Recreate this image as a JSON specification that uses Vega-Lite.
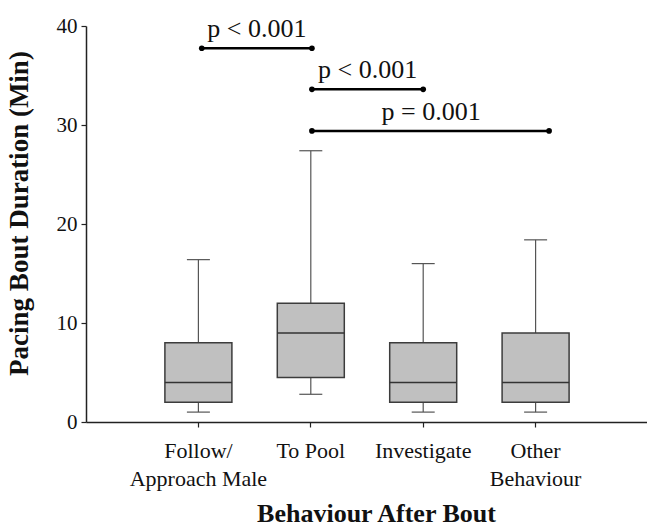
{
  "$schema": "https://vega.github.io/schema/vega-lite/v6.json",
  "width": 562,
  "height": 396,
  "autosize": {"type": "none"},
  "padding": {"left": 86, "top": 26, "right": 0, "bottom": 106},
  "background": "white",
  "config": {
    "view": {"stroke": null},
    "font": "Liberation Serif",
    "axis": {
      "grid": false,
      "domainColor": "#222222",
      "domainWidth": 1.5,
      "tickColor": "#222222",
      "tickWidth": 1.2,
      "tickSize": 5,
      "labelFont": "Liberation Serif",
      "labelFontSize": 21,
      "labelColor": "#111111",
      "titleFont": "Liberation Serif",
      "titleFontWeight": "bold",
      "titleColor": "#111111"
    }
  },
  "layer": [
    {
      "data": {
        "values": [
          {"behaviour": "Follow/Approach Male", "min": 1, "q1": 2, "median": 4, "q3": 8, "max": 16.4},
          {"behaviour": "To Pool", "min": 2.8, "q1": 4.5, "median": 9, "q3": 12, "max": 27.4},
          {"behaviour": "Investigate", "min": 1, "q1": 2, "median": 4, "q3": 8, "max": 16},
          {"behaviour": "Other Behaviour", "min": 1, "q1": 2, "median": 4, "q3": 9, "max": 18.4}
        ]
      },
      "encoding": {
        "x": {
          "field": "behaviour",
          "type": "nominal",
          "sort": ["Follow/Approach Male", "To Pool", "Investigate", "Other Behaviour"],
          "scale": {"paddingInner": 0, "paddingOuter": 0.5},
          "axis": {
            "title": "Behaviour After Bout",
            "titleFontSize": 26,
            "titlePadding": 11,
            "titleX": 290,
            "labelAngle": 0,
            "labelFontSize": 22,
            "labelPadding": 13,
            "labelLineHeight": 28,
            "labelExpr": "datum.label == 'Follow/Approach Male' ? ['Follow/', 'Approach Male'] : datum.label == 'Other Behaviour' ? ['Other', 'Behaviour'] : datum.label"
          }
        }
      },
      "layer": [
        {
          "mark": {"type": "rule", "color": "#555555", "strokeWidth": 1.2},
          "encoding": {
            "y": {
              "field": "min",
              "type": "quantitative",
              "scale": {"domain": [0, 40], "nice": false},
              "axis": {
                "values": [0, 10, 20, 30, 40],
                "labelPadding": 4,
                "title": "Pacing Bout Duration (Min)",
                "titleFontSize": 27,
                "titlePadding": 23,
                "titleY": 187
              }
            },
            "y2": {"field": "max"}
          }
        },
        {
          "mark": {"type": "bar", "size": 67, "fill": "#c0c0c0", "stroke": "#3c3c3c", "strokeWidth": 1.5},
          "encoding": {
            "y": {"field": "q1", "type": "quantitative", "title": "Pacing Bout Duration (Min)"},
            "y2": {"field": "q3"}
          }
        },
        {
          "mark": {"type": "tick", "size": 67, "thickness": 1.5, "color": "#333333", "opacity": 1},
          "encoding": {
            "y": {"field": "median", "type": "quantitative", "title": "Pacing Bout Duration (Min)"}
          }
        },
        {
          "mark": {"type": "tick", "size": 23, "thickness": 1.2, "color": "#555555", "opacity": 1},
          "encoding": {
            "y": {"field": "min", "type": "quantitative", "title": "Pacing Bout Duration (Min)"}
          }
        },
        {
          "mark": {"type": "tick", "size": 23, "thickness": 1.2, "color": "#555555", "opacity": 1},
          "encoding": {
            "y": {"field": "max", "type": "quantitative", "title": "Pacing Bout Duration (Min)"}
          }
        }
      ]
    },
    {
      "data": {
        "values": [
          {"x1": 1.03, "x2": 2.01, "y": 37.75, "mid": 1.52, "label": "p < 0.001"},
          {"x1": 2.01, "x2": 3.0, "y": 33.6, "mid": 2.505, "label": "p < 0.001"},
          {"x1": 2.01, "x2": 4.12, "y": 29.4, "mid": 3.07, "label": "p = 0.001"}
        ]
      },
      "layer": [
        {
          "mark": {"type": "rule", "color": "#000000", "strokeWidth": 2.5},
          "encoding": {
            "x": {"field": "x1", "type": "quantitative", "scale": {"domain": [0, 5], "nice": false, "zero": false}, "axis": null},
            "x2": {"field": "x2"},
            "y": {"field": "y", "type": "quantitative", "title": "Pacing Bout Duration (Min)"}
          }
        },
        {
          "mark": {"type": "point", "filled": true, "size": 32, "color": "#000000", "opacity": 1},
          "encoding": {
            "x": {"field": "x1", "type": "quantitative", "axis": null},
            "y": {"field": "y", "type": "quantitative", "title": "Pacing Bout Duration (Min)"}
          }
        },
        {
          "mark": {"type": "point", "filled": true, "size": 32, "color": "#000000", "opacity": 1},
          "encoding": {
            "x": {"field": "x2", "type": "quantitative", "axis": null},
            "y": {"field": "y", "type": "quantitative", "title": "Pacing Bout Duration (Min)"}
          }
        },
        {
          "mark": {"type": "text", "font": "Liberation Serif", "fontSize": 26, "color": "#111111", "baseline": "alphabetic", "align": "center", "dy": -11},
          "encoding": {
            "x": {"field": "mid", "type": "quantitative", "axis": null},
            "y": {"field": "y", "type": "quantitative", "title": "Pacing Bout Duration (Min)"},
            "text": {"field": "label"}
          }
        }
      ]
    }
  ],
  "resolve": {"scale": {"x": "independent"}}
}
